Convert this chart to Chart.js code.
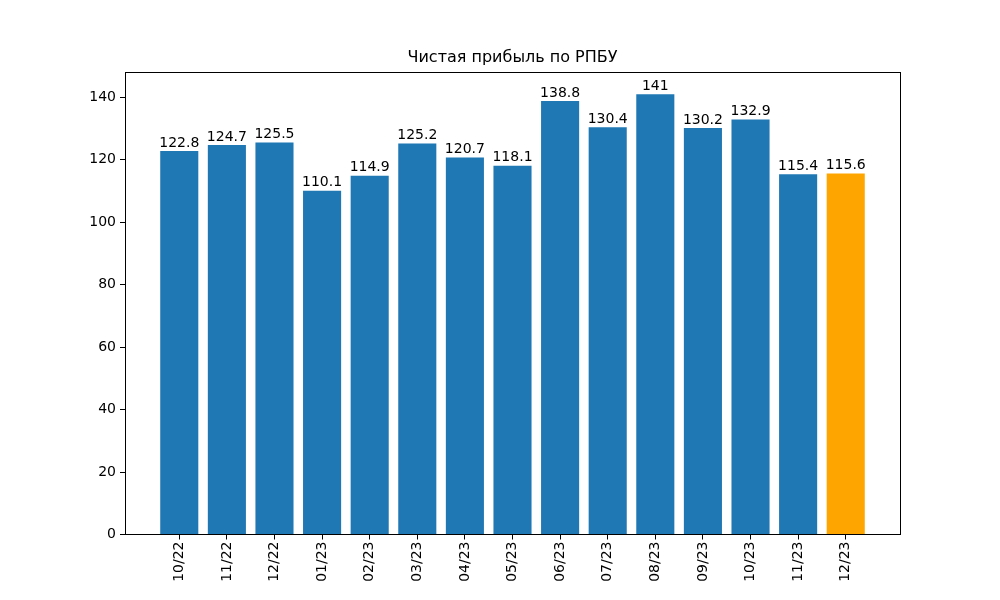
<!DOCTYPE html>
<html>
<head>
<meta charset="utf-8">
<script src="https://cdn.jsdelivr.net/npm/chart.js@4/dist/chart.umd.min.js"></script>
<style>
  html, body { margin: 0; padding: 0; background: #fff; }
  #wrap { width: 1000px; height: 600px; }
</style>
</head>
<body>
<div id="wrap"><canvas id="profit"></canvas></div>
<script>
const months = ['10/22', '11/22', '12/22', '01/23', '02/23', '03/23', '04/23', '05/23',
                '06/23', '07/23', '08/23', '09/23', '10/23', '11/23', '12/23'];
const profit = [122.8, 124.7, 125.5, 110.1, 114.9, 125.2, 120.7, 118.1,
                138.8, 130.4, 141, 130.2, 132.9, 115.4, 115.6];
const yTicks = [0, 20, 40, 60, 80, 100, 120, 140];

const FONT = 'DejaVu Sans';

const barLabels = {
    id: 'barLabels',
    afterDatasetsDraw(chart) {
        const ctx = chart.ctx;
        const meta = chart.getDatasetMeta(0);
        ctx.save();
        ctx.font = '14px "' + FONT + '"';
        ctx.fillStyle = '#000';
        ctx.textAlign = 'center';
        ctx.textBaseline = 'bottom';
        meta.data.forEach((bar, i) => {
            ctx.fillText(String(profit[i]), bar.x, bar.y - 1);
        });
        // frame around the plot
        const a = chart.chartArea;
        ctx.strokeStyle = '#000';
        ctx.lineWidth = 1;
        ctx.strokeRect(Math.round(a.left) + 0.5, Math.round(a.top) + 0.5,
                       Math.round(a.right - a.left), Math.round(a.bottom - a.top));
        ctx.restore();
    }
};

new Chart(document.getElementById('profit'), {
    type: 'bar',
    data: {
        datasets: [{
            data: profit.map((v, i) => ({ x: i, y: v })),
            backgroundColor: profit.map((v, i) => i === profit.length - 1 ? '#ffa500' : '#1f77b4'),
            barPercentage: 0.8,
            categoryPercentage: 1.0,
            borderWidth: 0
        }]
    },
    options: {
        responsive: true,
        maintainAspectRatio: false,
        animation: false,
        layout: { padding: { left: 0, right: 100, top: 0, bottom: 0 } },
        plugins: {
            legend: { display: false },
            tooltip: { enabled: false },
            title: {
                display: true,
                fullSize: false,
                text: 'Чистая прибыль по РПБУ',
                color: '#000',
                font: { family: FONT, size: 16, weight: 'normal' },
                padding: { top: 48, bottom: 5 }
            }
        },
        scales: {
            x: {
                type: 'linear',
                min: -1.14,
                max: 15.14,
                offset: false,
                afterBuildTicks(scale) { scale.ticks = months.map((m, i) => ({ value: i })); },
                afterFit(scale) { scale.height = 65.5; },
                ticks: {
                    color: '#000',
                    font: { family: FONT, size: 14 },
                    maxRotation: 90,
                    minRotation: 90,
                    padding: 2,
                    autoSkip: false,
                    callback: (v) => months[v]
                },
                grid: { drawOnChartArea: false, offset: false, tickLength: 5, color: '#000' },
                border: { color: '#000' }
            },
            y: {
                min: 0,
                max: 148.05,
                afterBuildTicks(scale) { scale.ticks = yTicks.map(v => ({ value: v })); },
                afterFit(scale) { scale.width = 125; },
                ticks: {
                    color: '#000',
                    font: { family: FONT, size: 14 },
                    padding: 4
                },
                grid: { drawOnChartArea: false, tickLength: 5, color: '#000' },
                border: { color: '#000' }
            }
        }
    },
    plugins: [barLabels]
});
</script>
</body>
</html>
